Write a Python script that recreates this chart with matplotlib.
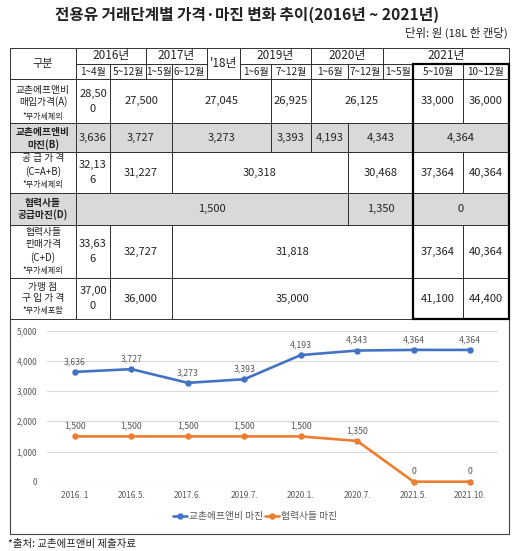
"""Edible-oil price / margin table with the margin trend chart underneath."""

import matplotlib.pyplot as plt
from matplotlib.patches import Rectangle

plt.rcParams["font.family"] = ["Noto Sans CJK KR", "DejaVu Sans"]

INK = "#222222"
LINE = "#333333"
GRAY_FILL = "#D9D9D9"
LABEL = "#595959"
BLUE = "#4472C4"
ORANGE = "#ED7D31"

# ---- chart data -------------------------------------------------------------
periods = ["2016. 1", "2016.5.", "2017.6.", "2019.7.", "2020.1.", "2020.7.", "2021.5.", "2021.10."]
kyochon_margin = [3636, 3727, 3273, 3393, 4193, 4343, 4364, 4364]
partner_margin = [1500, 1500, 1500, 1500, 1500, 1350, 0, 0]
series_names = ["교촌에프앤비 마진", "협력사들 마진"]
y_ticks = [0, 1000, 2000, 3000, 4000, 5000]

# ---- table data -------------------------------------------------------------
years = ["2016년", "2017년", "'18년", "2019년", "2020년", "2021년"]
year_spans = [(1, 3), (3, 5), (5, 6), (6, 8), (8, 10), (10, 13)]
months = ["1~4월", "5~12월", "1~5월", "6~12월", "1~6월", "7~12월",
          "1~6월", "7~12월", "1~5월", "5~10월", "10~12월"]
month_cols = [1, 2, 3, 4, 6, 7, 8, 9, 10, 11, 12]

row_a = ["28,50\n0", "27,500", "27,045", "26,925", "26,125", "33,000", "36,000"]
row_b = ["3,636", "3,727", "3,273", "3,393", "4,193", "4,343", "4,364"]
row_c = ["32,13\n6", "31,227", "30,318", "30,468", "37,364", "40,364"]
row_d = ["1,500", "1,350", "0"]
row_e = ["33,63\n6", "32,727", "31,818", "37,364", "40,364"]
row_f = ["37,00\n0", "36,000", "35,000", "41,100", "44,400"]
rows = [row_a, row_b, row_c, row_d, row_e, row_f]
row_spans = [
    [(1, 2), (2, 4), (4, 7), (7, 8), (8, 11), (11, 12), (12, 13)],
    [(1, 2), (2, 4), (4, 7), (7, 8), (8, 9), (9, 11), (11, 13)],
    [(1, 2), (2, 4), (4, 9), (9, 11), (11, 12), (12, 13)],
    [(1, 9), (9, 11), (11, 13)],
    [(1, 2), (2, 4), (4, 11), (11, 12), (12, 13)],
    [(1, 2), (2, 4), (4, 11), (11, 12), (12, 13)],
]
row_labels = [
    ["교촌에프앤비", "매입가격(A)", "*부가세제외"],
    ["교촌에프앤비", "마진(B)"],
    ["공 급 가 격", "(C=A+B)", "*부가세제외"],
    ["협력사들", "공급마진(D)"],
    ["협력사들", "판매가격", "(C+D)", "*부가세제외"],
    ["가맹 점", "구 입 가 격", "*부가세포함"],
]
shaded_rows = [1, 3]

# ---- layout (pixels) --------------------------------------------------------
col_x = [10, 76, 110, 146, 172, 207, 240, 271, 311, 348, 383, 413, 463, 509]
row_y = [48, 64, 79, 123, 152, 193, 225, 278, 319]
label_y = [[90, 102, 116], [132, 145], [158, 172, 185], [203, 215],
           [232, 244, 258, 271], [287, 298, 310]]

fig = plt.figure(figsize=(5.23, 5.51), dpi=100)
tab = fig.add_axes([0, 0, 1, 1])
tab.set_xlim(0, 523)
tab.set_ylim(551, 0)
tab.axis("off")


def cell(x0, x1, y0, y1, fill=None):
    tab.add_patch(Rectangle((x0, y0), x1 - x0, y1 - y0, facecolor=fill or "none",
                            edgecolor=LINE, lw=0.7, zorder=2 if fill is None else 1))


tab.text(247, 15, "전용유 거래단계별 가격·마진 변화 추이(2016년 ~ 2021년)",
         ha="center", va="center", fontsize=11.3, fontweight="bold", color=INK)
tab.text(508, 33, "단위: 원 (18L 한 캔당)", ha="right", va="center", fontsize=8.2, color=INK)

# header
cell(col_x[0], col_x[1], row_y[0], row_y[2])
tab.text((col_x[0] + col_x[1]) / 2, (row_y[0] + row_y[2]) / 2, "구분",
         ha="center", va="center", fontsize=8, color=INK)
for name, (c0, c1) in zip(years, year_spans):
    y1 = row_y[2] if c1 - c0 == 1 and name.startswith("'") else row_y[1]
    cell(col_x[c0], col_x[c1], row_y[0], y1)
    tab.text((col_x[c0] + col_x[c1]) / 2, (row_y[0] + y1) / 2, name,
             ha="center", va="center", fontsize=8.5, color=INK)
for name, c in zip(months, month_cols):
    cell(col_x[c], col_x[c + 1], row_y[1], row_y[2])
    tab.text((col_x[c] + col_x[c + 1]) / 2, (row_y[1] + row_y[2]) / 2, name,
             ha="center", va="center", fontsize=7.2, color=INK)

# body
for r, (vals, spans) in enumerate(zip(rows, row_spans)):
    y0, y1 = row_y[r + 2], row_y[r + 3]
    fill = GRAY_FILL if r in shaded_rows else None
    if fill:
        tab.add_patch(Rectangle((col_x[0], y0), col_x[-1] - col_x[0], y1 - y0,
                                facecolor=fill, edgecolor="none", zorder=0))
    cell(col_x[0], col_x[1], y0, y1)
    for k, (txt, ly) in enumerate(zip(row_labels[r], label_y[r])):
        small = txt.startswith("*")
        tab.text((col_x[0] + col_x[1]) / 2, ly, txt, ha="center", va="center",
                 fontsize=5.8 if small else 7,
                 fontweight="bold" if r in shaded_rows else "normal", color=INK)
    for val, (c0, c1) in zip(vals, spans):
        cell(col_x[c0], col_x[c1], y0, y1)
        xc, yc = (col_x[c0] + col_x[c1]) / 2, (y0 + y1) / 2
        parts = val.split("\n")
        gap = 15
        for i, p in enumerate(parts):
            tab.text(xc, yc + (i - (len(parts) - 1) / 2) * gap, p,
                     ha="center", va="center", fontsize=8, color=INK)

# thick box around the 2021 May-Dec columns
tab.add_patch(Rectangle((col_x[11], row_y[1]), col_x[13] - col_x[11], row_y[-1] - row_y[1],
                        facecolor="none", edgecolor="black", lw=1.6, zorder=3))

# chart frame
tab.plot([10, 10, 509, 509], [319, 534, 534, 319], color="#444444", lw=0.8)
tab.text(8, 544, "*출처: 교촌에프앤비 제출자료", ha="left", va="center", fontsize=7.5, color=INK)

# ---- line chart -------------------------------------------------------------
ax = fig.add_axes([46.8 / 523, (551 - 481.7) / 551, 451.4 / 523, 151 / 551])
ax.set_facecolor("none")
x = list(range(len(periods)))
for vals, color, name in [(kyochon_margin, BLUE, series_names[0]),
                          (partner_margin, ORANGE, series_names[1])]:
    ax.plot(x, vals, color=color, lw=1.9, marker="o", ms=3.6, label=name,
            solid_capstyle="round", clip_on=False, zorder=3)
    for xi, v in zip(x, vals):
        ax.annotate(f"{v:,}", (xi, v), xytext=(0, 7.5), textcoords="offset points",
                    ha="center", va="center", fontsize=6.3, color=LABEL)

ax.set_xlim(-0.5, len(periods) - 0.5)
ax.set_ylim(0, 5000)
ax.set_yticks(y_ticks)
ax.set_yticklabels([f"{t:,}" for t in y_ticks])
ax.set_xticks(x)
ax.set_xticklabels(periods)
ax.tick_params(axis="y", length=0, pad=7, labelsize=6, colors=LABEL)
ax.tick_params(axis="x", length=0, pad=7, labelsize=6, colors=LABEL)
ax.grid(axis="y", color=GRAY_FILL, lw=0.8)
ax.set_axisbelow(True)
for s in ax.spines.values():
    s.set_visible(False)

fig.legend(loc="center", bbox_to_anchor=(255 / 523, 1 - 516 / 551), ncol=2, frameon=False,
           fontsize=7, handlelength=1.4, handletextpad=0.2, columnspacing=0.2,
           labelcolor=LABEL)

fig.savefig("out.png", dpi=100, facecolor="white")
